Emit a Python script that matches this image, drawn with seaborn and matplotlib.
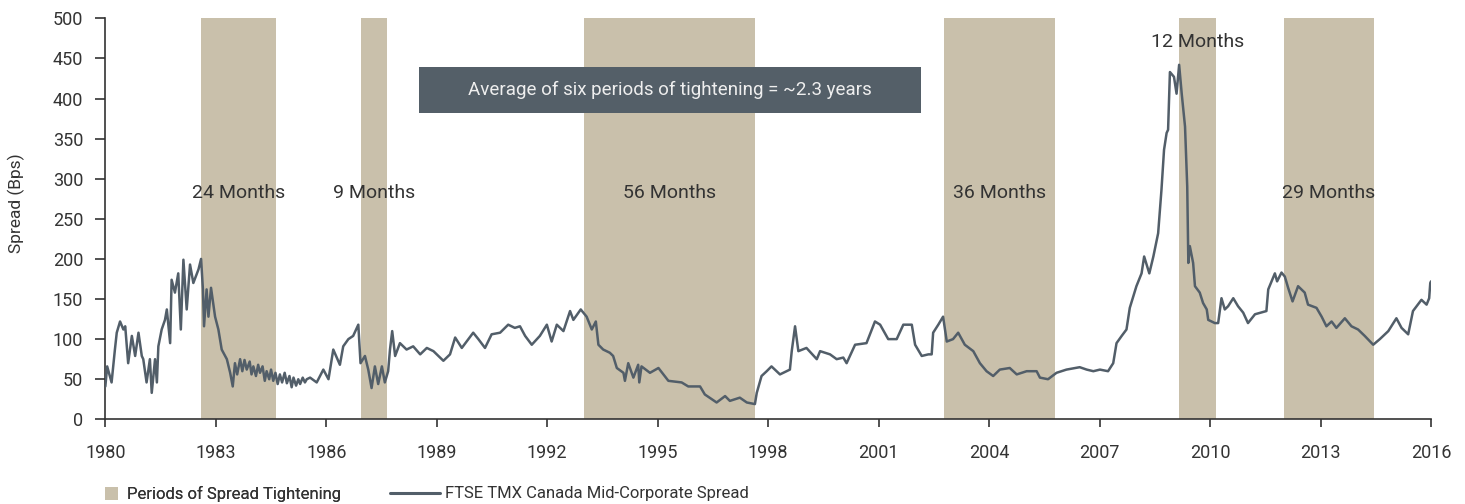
import matplotlib
matplotlib.use("Agg")
import matplotlib.pyplot as plt
import seaborn as sns
from matplotlib.patches import Patch, Rectangle
from matplotlib.lines import Line2D

# ---------------- data ----------------
years = [
    1980.00, 1980.05, 1980.17, 1980.26, 1980.31, 1980.40, 1980.49, 1980.54, 1980.62, 1980.72,
    1980.81, 1980.90, 1980.99, 1981.03, 1981.12, 1981.21, 1981.26, 1981.35, 1981.40, 1981.44,
    1981.53, 1981.62, 1981.67, 1981.76, 1981.80, 1981.89, 1981.98, 1982.05, 1982.12, 1982.21,
    1982.30, 1982.39, 1982.53, 1982.60, 1982.65, 1982.68, 1982.75, 1982.80, 1982.87, 1982.98,
    1983.07, 1983.16, 1983.30, 1983.39, 1983.46, 1983.52, 1983.58, 1983.66, 1983.72, 1983.78,
    1983.84, 1983.92, 1983.97, 1984.02, 1984.09, 1984.15, 1984.20, 1984.27, 1984.33, 1984.38,
    1984.45, 1984.50, 1984.56, 1984.62, 1984.68, 1984.74, 1984.80, 1984.87, 1984.93, 1985.00,
    1985.06, 1985.11, 1985.18, 1985.24, 1985.29, 1985.36, 1985.42, 1985.47, 1985.56, 1985.74,
    1985.92, 1986.06, 1986.19, 1986.37, 1986.46, 1986.60, 1986.73, 1986.87, 1986.93, 1987.05,
    1987.14, 1987.23, 1987.32, 1987.41, 1987.51, 1987.59, 1987.68, 1987.73, 1987.79, 1987.87,
    1988.00, 1988.18, 1988.36, 1988.55, 1988.73, 1988.91, 1989.09, 1989.18, 1989.36, 1989.50,
    1989.68, 1989.86, 1989.99, 1990.13, 1990.31, 1990.49, 1990.72, 1990.94, 1991.12, 1991.26,
    1991.40, 1991.58, 1991.80, 1991.99, 1992.12, 1992.26, 1992.44, 1992.62, 1992.71, 1992.91,
    1993.07, 1993.21, 1993.32, 1993.39, 1993.52, 1993.70, 1993.79, 1993.89, 1994.07, 1994.11,
    1994.20, 1994.34, 1994.47, 1994.50, 1994.56, 1994.79, 1995.02, 1995.29, 1995.65, 1995.83,
    1996.15, 1996.28, 1996.60, 1996.83, 1996.96, 1997.23, 1997.42, 1997.64, 1997.69, 1997.82,
    1997.96, 1998.09, 1998.32, 1998.59, 1998.64, 1998.73, 1998.82, 1999.04, 1999.32, 1999.41,
    1999.68, 1999.86, 2000.04, 2000.13, 2000.36, 2000.67, 2000.90, 2001.04, 2001.26, 2001.49,
    2001.67, 2001.90, 2001.99, 2002.17, 2002.35, 2002.44, 2002.48, 2002.62, 2002.75, 2002.85,
    2003.02, 2003.16, 2003.34, 2003.57, 2003.75, 2003.93, 2004.11, 2004.29, 2004.56, 2004.75,
    2005.02, 2005.29, 2005.38, 2005.60, 2005.83, 2006.10, 2006.46, 2006.65, 2006.83, 2007.01,
    2007.23, 2007.37, 2007.46, 2007.60, 2007.73, 2007.82, 2008.00, 2008.14, 2008.21, 2008.35,
    2008.46, 2008.59, 2008.68, 2008.75, 2008.82, 2008.86, 2008.91, 2009.02, 2009.09, 2009.16,
    2009.23, 2009.32, 2009.38, 2009.41, 2009.45, 2009.54, 2009.59, 2009.72, 2009.81, 2009.91,
    2009.95, 2010.13, 2010.22, 2010.31, 2010.40, 2010.49, 2010.63, 2010.76, 2010.90, 2011.03,
    2011.22, 2011.53, 2011.58, 2011.76, 2011.82, 2011.94, 2012.03, 2012.12, 2012.24, 2012.39,
    2012.57, 2012.66, 2012.89, 2013.03, 2013.16, 2013.30, 2013.43, 2013.66, 2013.84, 2014.02,
    2014.20, 2014.43, 2014.61, 2014.84, 2015.06, 2015.20, 2015.38, 2015.51, 2015.74, 2015.88,
    2015.95, 2015.98, 2016.00,
]
spread = [
    41, 66, 46, 87, 108, 122, 112, 116, 70, 104,
    79, 108, 79, 75, 46, 75, 33, 75, 46, 91,
    112, 124, 137, 95, 174, 158, 182, 112, 199, 137,
    193, 170, 187, 200, 162, 116, 162, 128, 164, 128,
    112, 87, 75, 58, 41, 70, 56, 75, 60, 74,
    62, 72, 56, 66, 54, 68, 58, 66, 48, 60,
    50, 62, 48, 58, 44, 56, 46, 58, 45, 54,
    40, 52, 42, 50, 44, 52, 46, 50, 52, 46,
    62, 50, 87, 68, 91, 100, 104, 118, 70, 79,
    62, 39, 66, 44, 66, 46, 60, 87, 110, 79,
    95, 87, 91, 81, 89, 85, 77, 73, 81, 102,
    89, 100, 108, 100, 89, 106, 108, 118, 114, 116,
    104, 93, 104, 118, 97, 118, 110, 135, 124, 137,
    128, 112, 122, 93, 87, 83, 79, 64, 58, 48,
    70, 52, 68, 46, 66, 58, 64, 48, 46, 41,
    41, 31, 21, 29, 23, 27, 21, 19, 33, 54,
    60, 66, 56, 62, 85, 116, 85, 89, 75, 85,
    81, 75, 77, 70, 93, 95, 122, 118, 100, 100,
    118, 118, 93, 79, 81, 81, 108, 118, 128, 97,
    100, 108, 93, 85, 70, 60, 54, 62, 64, 56,
    60, 60, 52, 50, 58, 62, 65, 62, 60, 62,
    60, 70, 95, 104, 112, 139, 166, 182, 203, 182,
    203, 232, 286, 336, 357, 361, 433, 427, 406, 442,
    406, 365, 290, 195, 216, 195, 166, 158, 145, 137,
    124, 120, 120, 151, 137, 141, 151, 141, 133, 120,
    131, 135, 162, 182, 172, 183, 178, 164, 147, 166,
    158, 143, 139, 128, 116, 122, 114, 126, 116, 112,
    104, 93, 100, 110, 126, 114, 106, 135, 149, 143,
    151, 170, 172,
]
band_starts = [1982.60, 1986.94, 1993.00, 2002.77, 2009.15, 2012.00]
band_ends = [1984.63, 1987.65, 1997.64, 2005.79, 2010.15, 2014.44]
band_labels = ["24 Months", "9 Months", "56 Months", "36 Months", "12 Months", "29 Months"]
x_ticks = list(range(1980, 2017, 3))
x_tick_labels = [str(v) for v in x_ticks]
y_ticks = list(range(0, 501, 50))
annotation = "Average of six periods of tightening = ~2.3 years"
y_label = "Spread (Bps)"
legend_band = "Periods of Spread Tightening"
legend_line = "FTSE TMX Canada Mid-Corporate Spread"

# ---------------- style ----------------
band_color = "#c9c0ab"
line_color = "#525e69"
box_color = "#545f68"
text_color = "#333333"
label_y = [282, 282, 282, 282, 471, 282]

sns.set_theme(style="ticks")
plt.rcParams["font.family"] = ["Roboto", "DejaVu Sans"]

fig = plt.figure(figsize=(14.65, 5.04), dpi=100)
ax = fig.add_axes([0.0719, 0.168, 0.9049, 0.7957])

for s, e in zip(band_starts, band_ends):
    ax.axvspan(s, e, color=band_color, lw=0, zorder=0)

sns.lineplot(x=years, y=spread, ax=ax, color=line_color, lw=1.8,
             zorder=3, legend=False, sort=False)

for s, e, lab, ly in zip(band_starts, band_ends, band_labels, label_y):
    ax.text((s + e) / 2, ly, lab, ha="center", va="center",
            fontsize=14, color=text_color, zorder=5)

ax.add_patch(Rectangle((1988.52, 382), 13.63, 57, facecolor=box_color,
                       edgecolor="none", zorder=4))
ax.text(1995.33, 411, annotation, ha="center", va="center", fontsize=13.5,
        color="#eeeeee", zorder=5)

ax.set_xlim(1980, 2016)
ax.set_ylim(0, 500)
ax.set_xticks(x_ticks)
ax.set_xticklabels(x_tick_labels)
ax.set_yticks(y_ticks)
ax.set_xlabel("")
ax.set_ylabel(y_label, fontsize=12.5, color=text_color)
ax.yaxis.set_label_coords(-0.0606, 0.539)

for side in ["top", "right"]:
    ax.spines[side].set_visible(False)
for side in ["left", "bottom"]:
    ax.spines[side].set_color(text_color)
    ax.spines[side].set_linewidth(1.2)

ax.tick_params(axis="y", direction="out", length=7, width=1.2, color=text_color,
               pad=9, labelsize=13, labelcolor=text_color)
ax.tick_params(axis="x", direction="out", length=6, width=1.2, color=text_color,
               pad=12, labelsize=13, labelcolor=text_color)

leg1 = fig.legend(handles=[Patch(facecolor=band_color, edgecolor="none", label=legend_band)],
                  loc="center left", bbox_to_anchor=(0.0717, 0.02), frameon=False,
                  handlelength=0.8, handleheight=0.8, handletextpad=0.5,
                  borderpad=0, borderaxespad=0, fontsize=12, labelcolor=text_color)
leg2 = fig.legend(handles=[Line2D([], [], color=line_color, lw=2.2, label=legend_line)],
                  loc="center left", bbox_to_anchor=(0.266, 0.02), frameon=False,
                  handlelength=3.0, handletextpad=0.3,
                  borderpad=0, borderaxespad=0, fontsize=12, labelcolor=text_color)
fig.add_artist(leg1)

fig.savefig("out.png", dpi=100)
